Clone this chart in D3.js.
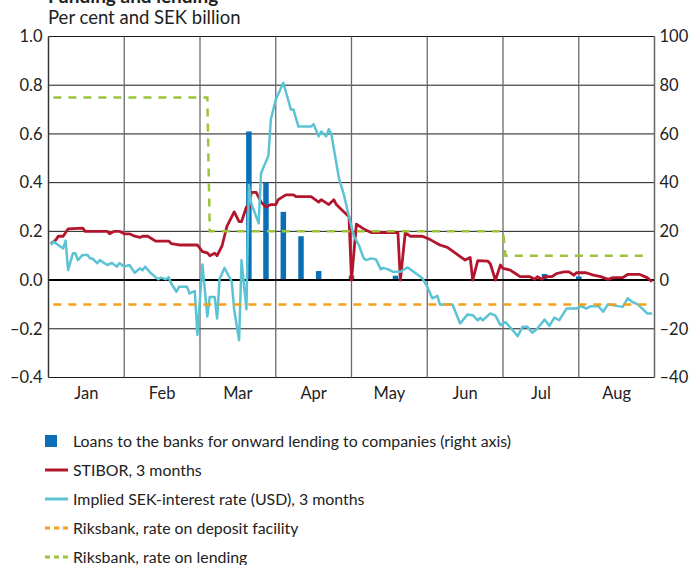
<!DOCTYPE html>
<html>
<head>
<meta charset="utf-8">
<script src="https://cdn.jsdelivr.net/npm/d3@7"></script>
<style>
  body { margin: 0; background: #fff; }
  svg { display: block; font-family: Lato, "Open Sans", sans-serif; }
</style>
</head>
<body>
<svg id="chart" width="689" height="565"></svg>
<script>
// month categories and tick labels
const months = ["Jan", "Feb", "Mar", "Apr", "May", "Jun", "Jul", "Aug"];
const leftTicks = [-0.4, -0.2, 0, 0.2, 0.4, 0.6, 0.8, 1.0];
const rightTicks = [-40, -20, 0, 20, 40, 60, 80, 100];

// Loans to the banks (SEK billion, right axis)
const loans = [
  ["03-21", 61], ["03-28", 40], ["04-04", 28], ["04-11", 18], ["04-18", 3.7],
  ["05-01", 1.8], ["05-19", 1.8], ["07-18", 2.5], ["08-01", 1.5]
];

// STIBOR 3 months, per cent
const stibor = [
  ["01-02", 0.15], ["01-04", 0.165], ["01-05", 0.18], ["01-07", 0.18], ["01-09", 0.21],
  ["01-15", 0.213], ["01-16", 0.20], ["01-25", 0.20], ["01-26", 0.19], ["01-28", 0.20],
  ["01-30", 0.20], ["02-01", 0.19], ["02-03", 0.19], ["02-05", 0.18], ["02-07", 0.175],
  ["02-08", 0.18], ["02-10", 0.18], ["02-13", 0.16], ["02-18", 0.16], ["02-19", 0.15],
  ["02-22", 0.144], ["02-29", 0.144], ["03-02", 0.117], ["03-04", 0.112], ["03-05", 0.10],
  ["03-07", 0.11], ["03-08", 0.10], ["03-10", 0.14], ["03-12", 0.22], ["03-15", 0.28],
  ["03-17", 0.24], ["03-18", 0.24], ["03-20", 0.30], ["03-21", 0.29], ["03-22", 0.36],
  ["03-24", 0.36], ["03-26", 0.32], ["03-28", 0.30], ["03-30", 0.31], ["04-01", 0.31],
  ["04-02", 0.33], ["04-05", 0.35], ["04-08", 0.35], ["04-09", 0.343], ["04-15", 0.343],
  ["04-18", 0.32], ["04-19", 0.33], ["04-22", 0.31], ["04-24", 0.33], ["04-25", 0.31],
  ["04-27", 0.29], ["04-29", 0.27], ["04-30", 0.26], ["05-01", 0.0], ["05-03", 0.23],
  ["05-06", 0.21], ["05-09", 0.195], ["05-20", 0.195], ["05-21", 0.0], ["05-23", 0.195],
  ["05-25", 0.18], ["05-30", 0.18], ["06-02", 0.167], ["06-06", 0.144], ["06-09", 0.134],
  ["06-16", 0.082], ["06-18", 0.093], ["06-19", 0.0], ["06-21", 0.08], ["06-25", 0.078],
  ["06-26", 0.066], ["06-28", 0.0], ["06-30", 0.062], ["07-01", 0.048], ["07-04", 0.041],
  ["07-05", 0.034], ["07-08", 0.014], ["07-12", 0.014], ["07-14", 0.003], ["07-15", 0.014],
  ["07-17", 0.003], ["07-18", 0.014], ["07-21", 0.014], ["07-23", 0.027], ["07-26", 0.034],
  ["07-28", 0.034], ["07-30", 0.02], ["07-31", 0.03], ["08-04", 0.03], ["08-07", 0.02],
  ["08-10", 0.014], ["08-13", 0.003], ["08-15", 0.01], ["08-19", 0.01], ["08-21", 0.023],
  ["08-26", 0.023], ["08-29", 0.01], ["08-31", -0.007]
];

// Implied SEK-interest rate (USD) 3 months, per cent
const implied = [
  ["01-02", 0.144], ["01-03", 0.158], ["01-05", 0.144], ["01-07", 0.13], ["01-08", 0.162],
  ["01-09", 0.041], ["01-11", 0.11], ["01-12", 0.11], ["01-13", 0.082], ["01-15", 0.103],
  ["01-17", 0.103], ["01-18", 0.089], ["01-19", 0.089], ["01-21", 0.069], ["01-22", 0.082],
  ["01-25", 0.062], ["01-27", 0.07], ["01-29", 0.055], ["01-30", 0.07], ["02-01", 0.055],
  ["02-03", 0.062], ["02-05", 0.03], ["02-07", 0.048], ["02-08", 0.04], ["02-09", 0.055],
  ["02-11", 0.03], ["02-14", 0.003], ["02-15", 0.01], ["02-17", 0.003], ["02-18", 0.012],
  ["02-19", -0.014], ["02-21", -0.048], ["02-22", -0.027], ["02-25", -0.027], ["02-26", -0.055],
  ["02-28", -0.045], ["02-29", -0.226], ["03-02", 0.064], ["03-04", -0.15], ["03-05", -0.069],
  ["03-07", -0.069], ["03-08", -0.158], ["03-09", 0.003], ["03-11", 0.05], ["03-14", -0.007],
  ["03-15", -0.123], ["03-17", -0.247], ["03-18", 0.082], ["03-20", -0.12], ["03-21", 0.39],
  ["03-22", 0.315], ["03-25", 0.233], ["03-26", 0.44], ["03-29", 0.51], ["03-30", 0.66],
  ["04-01", 0.74], ["04-04", 0.81], ["04-07", 0.70], ["04-08", 0.70], ["04-10", 0.63],
  ["04-15", 0.63], ["04-16", 0.64], ["04-18", 0.59], ["04-19", 0.61], ["04-21", 0.59],
  ["04-22", 0.62], ["04-23", 0.60], ["04-26", 0.42], ["04-28", 0.35], ["04-30", 0.26],
  ["05-02", 0.18], ["05-04", 0.144], ["05-06", 0.089], ["05-07", 0.082], ["05-09", 0.089],
  ["05-11", 0.085], ["05-13", 0.044], ["05-14", 0.05], ["05-16", 0.044], ["05-18", 0.034],
  ["05-21", 0.034], ["05-24", 0.052], ["05-27", 0.03], ["05-30", 0.007], ["06-01", -0.027],
  ["06-03", -0.075], ["06-05", -0.065], ["06-06", -0.10], ["06-11", -0.10], ["06-14", -0.178],
  ["06-17", -0.141], ["06-19", -0.144], ["06-21", -0.165], ["06-22", -0.155], ["06-23", -0.165],
  ["06-26", -0.137], ["06-28", -0.146], ["06-30", -0.185], ["07-02", -0.172], ["07-05", -0.206],
  ["07-07", -0.23], ["07-09", -0.192], ["07-11", -0.192], ["07-13", -0.216], ["07-15", -0.20],
  ["07-18", -0.162], ["07-20", -0.188], ["07-22", -0.154], ["07-24", -0.165], ["07-27", -0.117],
  ["07-31", -0.117], ["08-02", -0.107], ["08-04", -0.117], ["08-06", -0.107], ["08-09", -0.107],
  ["08-11", -0.13], ["08-13", -0.099], ["08-17", -0.107], ["08-19", -0.11], ["08-21", -0.075],
  ["08-23", -0.09], ["08-25", -0.099], ["08-27", -0.117], ["08-29", -0.137], ["08-31", -0.137]
];

// Riksbank rates, per cent
const depositRate = [["01-03", -0.10], ["08-31", -0.10]];
const lendingRate = [
  ["01-03", 0.75], ["03-04", 0.75], ["03-05", 0.20], ["07-01", 0.20], ["07-02", 0.10], ["08-29", 0.10]
];

const legendItems = [
  { label: "Loans to the banks for onward lending to companies (right axis)", type: "bar", color: "#0b6fb6" },
  { label: "STIBOR, 3 months", type: "line", color: "#b3162c" },
  { label: "Implied SEK-interest rate (USD), 3 months", type: "line", color: "#5cc3d5" },
  { label: "Riksbank, rate on deposit facility", type: "dash", color: "#f5a01a" },
  { label: "Riksbank, rate on lending", type: "dash", color: "#9bc43a" }
];

const svg = d3.select("#chart");
const margin = { top: 36.5, right: 34.5, bottom: 187.5, left: 48.5 };
const width = 689, height = 565;
const plotW = width - margin.left - margin.right;
const plotB = height - margin.bottom;

const parse = s => d3.timeParse("%Y-%m-%d")("2020-" + s);
const monthStarts = d3.range(9).map(i => new Date(2020, i, 1));
const monthW = plotW / 8;

// every month gets the same width, as in the original
const x = d3.scaleTime()
  .domain(monthStarts)
  .range(monthStarts.map((d, i) => margin.left + i * monthW));

const xBand = d3.scaleBand().domain(months).range([margin.left, margin.left + plotW]);

const yL = d3.scaleLinear().domain([-0.4, 1.0]).range([plotB, margin.top]);
const yR = d3.scaleLinear().domain([-40, 100]).range([plotB, margin.top]);

const fmtL = v => (v < 0 ? "\u2013" : "") + Math.abs(v).toFixed(1);
const fmtR = v => (v < 0 ? "\u2013" : "") + Math.abs(v);

// title (cut off at top in the original) and unit line
svg.append("text")
  .attr("x", 48).attr("y", 3)
  .attr("font-size", "19px").attr("font-weight", "bold").attr("fill", "#222")
  .text("Funding and lending");
svg.append("text")
  .attr("x", 48).attr("y", 23.5)
  .attr("font-size", "18.5px").attr("fill", "#222")
  .text("Per cent and SEK billion");

// gridlines
svg.append("g")
  .selectAll("line")
  .data(leftTicks.filter(d => d !== 0))
  .enter().append("line")
  .attr("x1", margin.left).attr("x2", margin.left + plotW)
  .attr("y1", d => yL(d)).attr("y2", d => yL(d))
  .attr("stroke", "#1a1a1a").attr("stroke-width", 1);

svg.append("g")
  .selectAll("line")
  .data(monthStarts)
  .enter().append("line")
  .attr("x1", d => x(d)).attr("x2", d => x(d))
  .attr("y1", margin.top).attr("y2", plotB)
  .attr("stroke", "#6a6a6a").attr("stroke-width", 1.3);

// bars (right axis)
svg.append("g")
  .selectAll("rect")
  .data(loans)
  .enter().append("rect")
  .attr("x", d => x(parse(d[0])) - 2.75)
  .attr("width", 5.5)
  .attr("y", d => yR(d[1]))
  .attr("height", d => yR(0) - yR(d[1]))
  .attr("fill", "#0b6fb6");

// zero line
svg.append("line")
  .attr("x1", margin.left).attr("x2", margin.left + plotW)
  .attr("y1", yL(0)).attr("y2", yL(0))
  .attr("stroke", "#000").attr("stroke-width", 2);

const line = d3.line()
  .x(d => x(parse(d[0])))
  .y(d => yL(d[1]));

svg.append("path").datum(stibor)
  .attr("d", line).attr("fill", "none")
  .attr("stroke", "#b3162c").attr("stroke-width", 2.8).attr("stroke-linejoin", "round");

svg.append("path").datum(implied)
  .attr("d", line).attr("fill", "none")
  .attr("stroke", "#5cc3d5").attr("stroke-width", 2.5).attr("stroke-linejoin", "round");

svg.append("path").datum(depositRate)
  .attr("d", line).attr("fill", "none")
  .attr("stroke", "#f5a01a").attr("stroke-width", 2.5).attr("stroke-dasharray", "8,7");

svg.append("path").datum(lendingRate)
  .attr("d", line).attr("fill", "none")
  .attr("stroke", "#9bc43a").attr("stroke-width", 2.5).attr("stroke-dasharray", "8,7");

// axes
const axisL = svg.append("g")
  .attr("transform", `translate(${margin.left},0)`)
  .call(d3.axisLeft(yL).tickValues(leftTicks).tickFormat(fmtL).tickSize(0).tickPadding(6));
const axisR = svg.append("g")
  .attr("transform", `translate(${margin.left + plotW},0)`)
  .call(d3.axisRight(yR).tickValues(rightTicks).tickFormat(fmtR).tickSize(0).tickPadding(5));
const axisB = svg.append("g")
  .attr("transform", `translate(0,${plotB})`)
  .call(d3.axisBottom(xBand).tickSize(0).tickPadding(10));

[axisL, axisR, axisB].forEach(g => {
  g.select(".domain").remove();
  g.selectAll("text").attr("font-size", "16.5px").attr("fill", "#222")
    .attr("font-family", "Lato, 'Open Sans', sans-serif");
});

// axis lines
svg.append("line")
  .attr("x1", margin.left).attr("x2", margin.left)
  .attr("y1", margin.top).attr("y2", plotB)
  .attr("stroke", "#333").attr("stroke-width", 1.3);
svg.append("line")
  .attr("x1", margin.left + plotW).attr("x2", margin.left + plotW)
  .attr("y1", margin.top).attr("y2", plotB)
  .attr("stroke", "#6a6a6a").attr("stroke-width", 1.3);

// legend
const legend = svg.append("g").attr("transform", "translate(45,441)");
const rows = legend.selectAll("g")
  .data(legendItems)
  .enter().append("g")
  .attr("transform", (d, i) => `translate(0,${i * 29})`);

rows.filter(d => d.type === "bar").append("rect")
  .attr("x", 0).attr("y", -6).attr("width", 12).attr("height", 12)
  .attr("fill", d => d.color);
rows.filter(d => d.type !== "bar").append("line")
  .attr("x1", 0).attr("x2", 23).attr("y1", 0).attr("y2", 0)
  .attr("stroke", d => d.color).attr("stroke-width", 3)
  .attr("stroke-dasharray", d => d.type === "dash" ? "5,4" : null);
rows.append("text")
  .attr("x", 28).attr("y", 0).attr("dy", "0.35em")
  .attr("font-size", "15.9px").attr("fill", "#222")
  .text(d => d.label);
</script>
</body>
</html>
